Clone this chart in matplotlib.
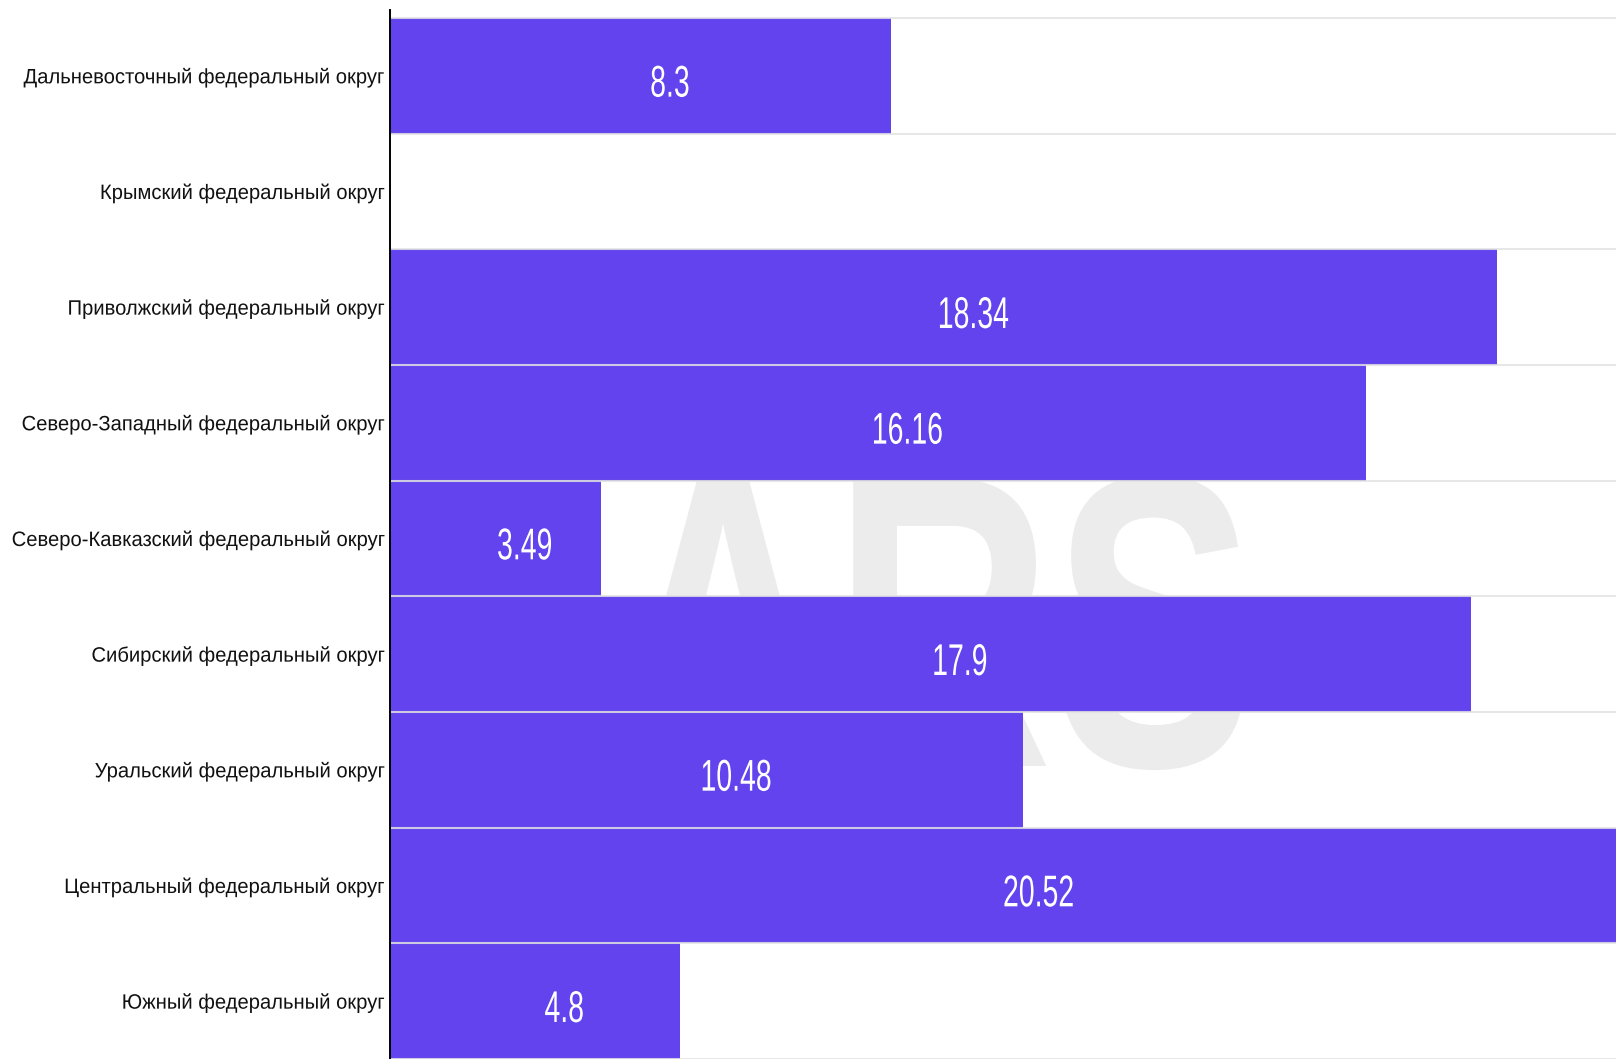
import numpy as np
import matplotlib
matplotlib.use("Agg")
import matplotlib.pyplot as plt
from matplotlib.patheffects import AbstractPathEffect
from matplotlib.transforms import Affine2D

# ---------------- data ----------------
categories = [
    "Дальневосточный федеральный округ",
    "Крымский федеральный округ",
    "Приволжский федеральный округ",
    "Северо-Западный федеральный округ",
    "Северо-Кавказский федеральный округ",
    "Сибирский федеральный округ",
    "Уральский федеральный округ",
    "Центральный федеральный округ",
    "Южный федеральный округ",
]
values = [8.3, None, 18.34, 16.16, 3.49, 17.9, 10.48, 20.52, 4.8]
value_labels = ["8.3", "", "18.34", "16.16", "3.49", "17.9", "10.48", "20.52", "4.8"]
watermark = "ARS"


class HScale(AbstractPathEffect):
    """Horizontally condense a text's glyph outlines around its centre or right edge."""

    def __init__(self, sx, anchor="center"):
        super().__init__()
        self.sx = sx
        self.anchor = anchor

    def draw_path(self, renderer, gc, tpath, affine, rgbFace=None):
        ext = tpath.get_extents(affine)
        if self.anchor == "right":
            cx = ext.x1
        else:
            cx = 0.5 * (ext.x0 + ext.x1)
        aff = affine + Affine2D().translate(-cx, 0).scale(self.sx, 1.0).translate(cx, 0)
        renderer.draw_path(gc, tpath, aff, rgbFace)


W, H = 1616, 1059
fig = plt.figure(figsize=(W / 100, H / 100), dpi=100)
fig.patch.set_facecolor("white")

left_px = 390.3
px_per_unit = 60.35
band_px = 116.0
ax = fig.add_axes([left_px / W, 0, 1 - left_px / W, 1049 / H])
ax.set_facecolor("none")

n = len(categories)
y = np.arange(n)
vals = np.array([np.nan if v is None else v for v in values], dtype=float)

bar_color = "#6243ee"
ax.barh(y, vals, height=1.0, color=bar_color, edgecolor="none", zorder=2)

# watermark behind bars
ax.text(935 / W, 1 - 766 / H, watermark, transform=fig.transFigure,
        family="Liberation Sans", weight="bold", fontsize=300, color="#ececec",
        ha="center", va="baseline", zorder=0.5,
        path_effects=[HScale(0.73)])

# value labels
for i, (v, t) in enumerate(zip(vals, value_labels)):
    if np.isnan(v):
        continue
    ax.annotate(t, (v / 2, i), xytext=(21, -15), textcoords="offset points",
                ha="center", va="baseline", color="white",
                family="Liberation Sans", fontsize=32, zorder=4,
                path_effects=[HScale(0.64)])

ax.set_xlim(0, (W - left_px) / px_per_unit)
ax.set_ylim(n - 0.5 - 3 / band_px, -0.5 - 8 / band_px)

# band boundary grid lines
ax.set_yticks(np.arange(-0.5, n, 1.0), minor=True)
ax.grid(which="minor", axis="y", color="#e3e3e3", linewidth=1.5, alpha=0.85, zorder=3)
ax.set_axisbelow(False)

ax.set_yticks(y)
ax.set_yticklabels(categories, fontsize=15, color="#111111", family="Liberation Sans",
                   path_effects=[HScale(0.97, anchor="right")])
ax.tick_params(axis="y", which="both", length=0, pad=3)
ax.set_xticks([])

for s in ["top", "right", "bottom"]:
    ax.spines[s].set_visible(False)
ax.spines["left"].set_color("black")
ax.spines["left"].set_linewidth(1.4)
ax.spines["left"].set_zorder(5)

fig.savefig("out.png", dpi=100, facecolor="white")
